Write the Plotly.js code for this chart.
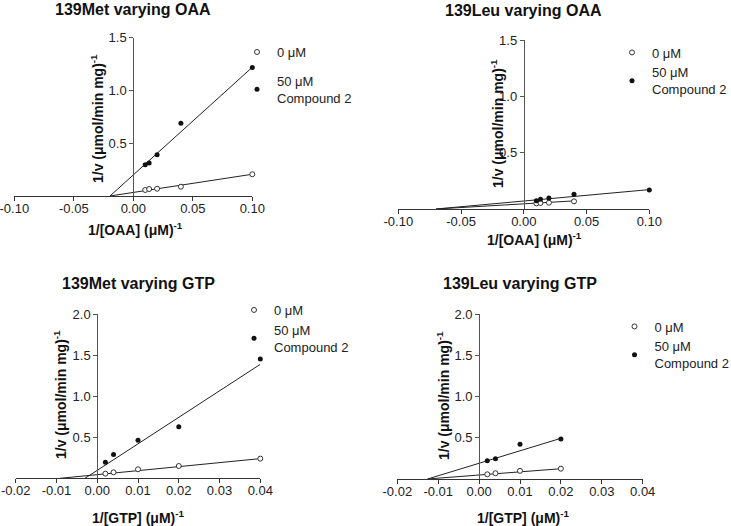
<!DOCTYPE html>
<html>
<head>
<meta charset="utf-8">
<script src="https://cdn.plot.ly/plotly-3.0.1.min.js"></script>
<style>html,body{margin:0;padding:0;background:#fff;}#chart{width:731px;height:526px;}</style>
</head>
<body>
<div id="chart"></div>
<script>
// ---- data ----
const panelTitles = ['139Met varying OAA', '139Leu varying OAA', '139Met varying GTP', '139Leu varying GTP'];
const seriesNames = ['0 \u03bcM', '50 \u03bcM<br>Compound 2'];

const oaaX = [0.01, 0.0133, 0.02, 0.04, 0.10];
const oaaXLeu0 = [0.01, 0.0133, 0.02, 0.04];
const gtpX = [0.002, 0.004, 0.01, 0.02, 0.04];
const gtpXLeu = [0.002, 0.004, 0.01, 0.02];

const metOaa0 = [0.057, 0.066, 0.069, 0.088, 0.206];
const metOaa50 = [0.297, 0.313, 0.392, 0.69, 1.218];
const leuOaa0 = [0.050, 0.053, 0.056, 0.068];
const leuOaa50 = [0.074, 0.086, 0.098, 0.131, 0.169];
const metGtp0 = [0.057, 0.073, 0.11, 0.15, 0.24];
const metGtp50 = [0.195, 0.291, 0.465, 0.63, 1.455];
const leuGtp0 = [0.057, 0.070, 0.099, 0.125];
const leuGtp50 = [0.222, 0.245, 0.421, 0.486];

// fitted lines: [x-intercept, last x] and [0, value at last x]
const metOaaFit0X = [-0.0196, 0.10], metOaaFit0Y = [0, 0.206];
const metOaaFit50X = [-0.0196, 0.10], metOaaFit50Y = [0, 1.22];
const leuOaaFit0X = [-0.07, 0.04], leuOaaFit0Y = [0, 0.072];
const leuOaaFit50X = [-0.07, 0.10], leuOaaFit50Y = [0, 0.172];
const metGtpFit0X = [-0.0091, 0.04], metGtpFit0Y = [0, 0.24];
const metGtpFit50X = [-0.003, 0.04], metGtpFit50Y = [0, 1.39];
const leuGtpFit0X = [-0.0126, 0.02], leuGtpFit0Y = [0, 0.125];
const leuGtpFit50X = [-0.0126, 0.02], leuGtpFit50Y = [0, 0.494];

const oaaTicks = [-0.10, -0.05, 0.00, 0.05, 0.10];
const oaaTickText = ['-0.10', '-0.05', '0.00', '0.05', '0.10'];
const gtpTicks = [-0.02, -0.01, 0.00, 0.01, 0.02, 0.03, 0.04];
const gtpTickText = ['-0.02', '-0.01', '0.00', '0.01', '0.02', '0.03', '0.04'];
const yTicks15 = [0.5, 1.0, 1.5];
const yTickText15 = ['0.5', '1.0', '1.5'];
const yTicks20 = [0.5, 1.0, 1.5, 2.0];
const yTickText20 = ['0.5', '1.0', '1.5', '2.0'];
const xTitleOAA = '<b>1/[OAA] (\u03bcM)<sup>-1</sup></b>';
const xTitleGTP = '<b>1/[GTP] (\u03bcM)<sup>-1</sup></b>';
const yTitle = '<b>1/v (\u03bcmol/min mg)<sup>-1</sup></b>';

// ---- layout geometry (pixels) ----
const W = 731, H = 526;
const FONT = 'Liberation Sans, Arial, sans-serif';
const px = v => v / W;
const py = v => 1 - v / H;

const panels = [
  {x0: 14.3, x1: 252.3, yTop: 37.7, yBot: 196, xr: [-0.10, 0.10], yr: [0, 1.5],
   xt: oaaTicks, xtt: oaaTickText, yt: yTicks15, ytt: yTickText15, xTitle: xTitleOAA,
   titleY: 9.5, xtPos: [135.8, 229], ytPos: [97, 119], leg: {x: 237, y: 37, gap: 9},
   fits: [[metOaaFit0X, metOaaFit0Y], [metOaaFit50X, metOaaFit50Y]],
   pts: [[oaaX, metOaa0], [oaaX, metOaa50]]},
  {x0: 398.3, x1: 649.3, yTop: 40, yBot: 209, xr: [-0.10, 0.10], yr: [0, 1.5],
   xt: oaaTicks, xtt: oaaTickText, yt: yTicks15, ytt: yTickText15, xTitle: xTitleOAA,
   titleY: 10, xtPos: [534, 238.5], ytPos: [497, 124], leg: {x: 612, y: 37.5, gap: 0},
   fits: [[leuOaaFit0X, leuOaaFit0Y], [leuOaaFit50X, leuOaaFit50Y]],
   pts: [[oaaXLeu0, leuOaa0], [oaaX, leuOaa50]]},
  {x0: 15.7, x1: 260.3, yTop: 314.3, yBot: 478.3, xr: [-0.02, 0.04], yr: [0, 2.0],
   xt: gtpTicks, xtt: gtpTickText, yt: yTicks20, ytt: yTickText20, xTitle: xTitleGTP,
   titleY: 283.5, xtPos: [137.5, 516.7], ytPos: [60, 395], leg: {x: 234, y: 295, gap: 0},
   fits: [[metGtpFit0X, metGtpFit0Y], [metGtpFit50X, metGtpFit50Y]],
   pts: [[gtpX, metGtp0], [gtpX, metGtp50]]},
  {x0: 397.3, x1: 642.7, yTop: 314.3, yBot: 479, xr: [-0.02, 0.04], yr: [0, 2.0],
   xt: gtpTicks, xtt: gtpTickText, yt: yTicks20, ytt: yTickText20, xTitle: xTitleGTP,
   titleY: 283.5, xtPos: [522.5, 516.7], ytPos: [443, 396], leg: {x: 614.5, y: 311.5, gap: 0},
   fits: [[leuGtpFit0X, leuGtpFit0Y], [leuGtpFit50X, leuGtpFit50Y]],
   pts: [[gtpXLeu, leuGtp0], [gtpXLeu, leuGtp50]]}
];

const data = [];
const layout = {
  width: W, height: H,
  margin: {l: 0, r: 0, t: 0, b: 0, autoexpand: false},
  paper_bgcolor: '#fff', plot_bgcolor: 'rgba(0,0,0,0)',
  showlegend: true,
  font: {family: FONT, size: 13, color: '#222'},
  annotations: []
};

panels.forEach((p, i) => {
  const n = i + 1;
  const xa = 'x' + (n === 1 ? '' : n), ya = 'y' + (n === 1 ? '' : n);
  const xKey = 'xaxis' + (n === 1 ? '' : n), yKey = 'yaxis' + (n === 1 ? '' : n);
  const legKey = 'legend' + (n === 1 ? '' : n);
  const xd = [px(p.x0), px(p.x1)];
  const zeroFrac = (0 - p.xr[0]) / (p.xr[1] - p.xr[0]);
  const yPos = xd[0] + (xd[1] - xd[0]) * zeroFrac;

  layout[xKey] = {
    domain: xd, range: p.xr, anchor: ya,
    showline: true, linecolor: '#333', linewidth: 1,
    ticks: 'outside', ticklen: 4, tickcolor: '#333', tickwidth: 1,
    tickvals: p.xt, ticktext: p.xtt, showgrid: false, zeroline: false,
    ticklabeloverflow: 'allow', ticklabelstandoff: -4,
    tickfont: {family: FONT, size: 13, color: '#222'},
    fixedrange: true, automargin: false
  };
  layout[yKey] = {
    domain: [py(p.yBot), py(p.yTop)], range: p.yr, anchor: 'free', position: yPos,
    showline: true, linecolor: '#555', linewidth: 1,
    ticks: 'outside', ticklen: 4, tickcolor: '#555', tickwidth: 1,
    tickvals: p.yt, ticktext: p.ytt, showgrid: false, zeroline: false,
    ticklabeloverflow: 'allow',
    tickfont: {family: FONT, size: 13, color: '#222'},
    fixedrange: true, automargin: false
  };
  layout[legKey] = {
    x: px(p.leg.x), y: py(p.leg.y), xanchor: 'left', yanchor: 'top',
    bgcolor: 'rgba(0,0,0,0)', borderwidth: 0, itemwidth: 30,
    tracegroupgap: p.leg.gap,
    font: {family: FONT, size: 13, color: '#222'}
  };
  layout.annotations.push({
    text: '<b>' + panelTitles[i] + '</b>', xref: 'paper', yref: 'paper',
    x: (xd[0] + xd[1]) / 2, y: py(p.titleY), xanchor: 'center', yanchor: 'middle',
    showarrow: false, font: {family: FONT, size: 16, color: '#111'}
  });
  layout.annotations.push({
    text: p.xTitle, xref: 'paper', yref: 'paper',
    x: px(p.xtPos[0]), y: py(p.xtPos[1]), xanchor: 'center', yanchor: 'middle',
    showarrow: false, font: {family: FONT, size: 14, color: '#111'}
  });
  layout.annotations.push({
    text: yTitle, xref: 'paper', yref: 'paper', textangle: -90,
    x: px(p.ytPos[0]), y: py(p.ytPos[1]), xanchor: 'center', yanchor: 'middle',
    showarrow: false, font: {family: FONT, size: 14, color: '#111'}
  });

  p.fits.forEach(f => {
    data.push({x: f[0], y: f[1], xaxis: xa, yaxis: ya, mode: 'lines', type: 'scatter',
      line: {color: '#222', width: 1}, showlegend: false, hoverinfo: 'skip'});
  });
  p.pts.forEach((s, k) => {
    data.push({x: s[0], y: s[1], xaxis: xa, yaxis: ya, mode: 'markers', type: 'scatter',
      name: seriesNames[k], legend: legKey, legendgroup: 'g' + n + k, cliponaxis: false,
      marker: k === 0
        ? {symbol: 'circle', size: 5, color: '#fff', line: {color: '#333', width: 1}}
        : {symbol: 'circle', size: 5, color: '#111', line: {color: '#111', width: 0}}
    });
  });
});

Plotly.newPlot('chart', data, layout, {staticPlot: true, displayModeBar: false});
</script>
</body>
</html>
